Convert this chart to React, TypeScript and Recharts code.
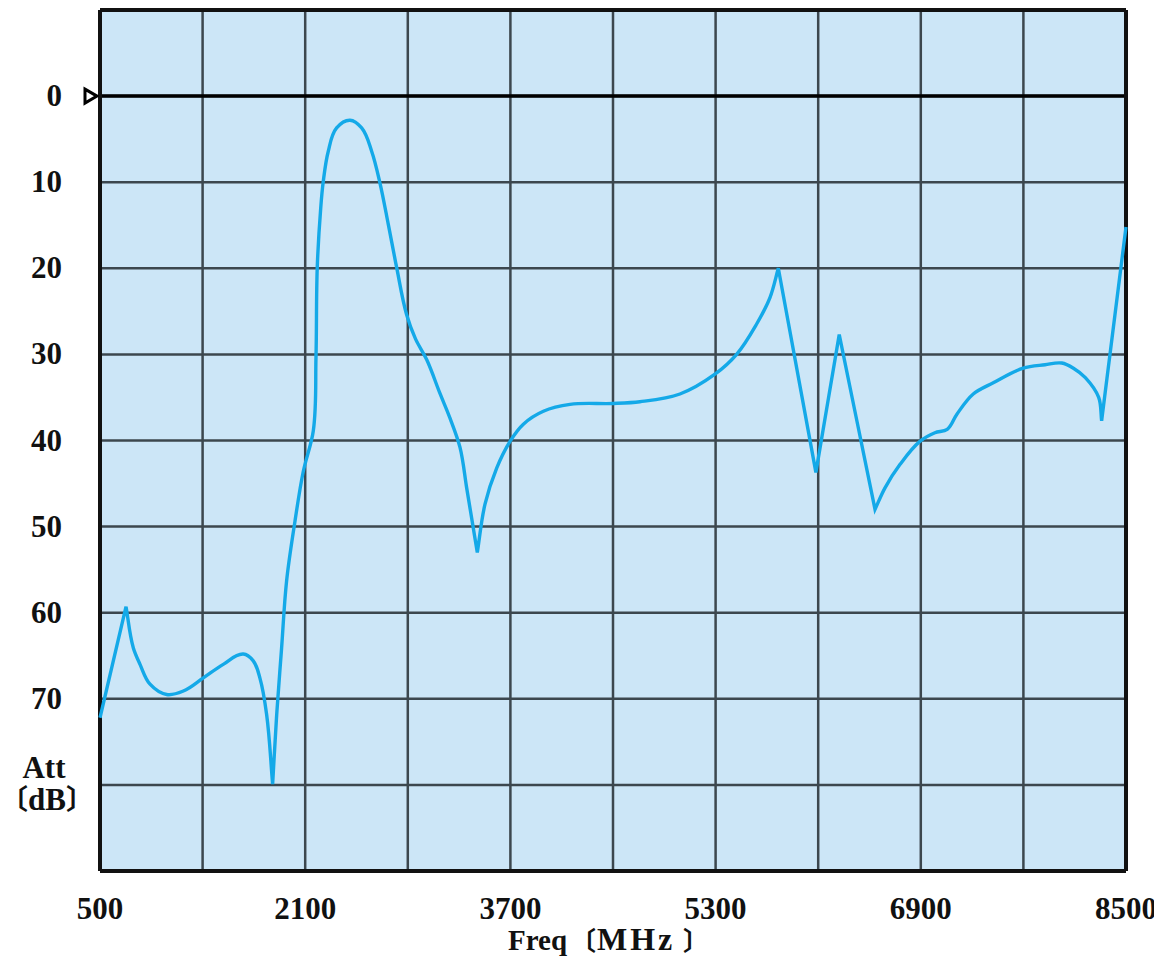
import * as React from 'react';
import { LineChart, Line, XAxis, YAxis, CartesianGrid, ReferenceLine } from 'recharts';

// attenuation curve
const freqMHz = [
  500, 703, 760, 812, 890, 1020, 1150, 1303, 1461, 1617, 1695, 1747, 1799, 1846, 1878, 1916, 1955,
  2020, 2085, 2163, 2184, 2194, 2221, 2241, 2280, 2345, 2449, 2540, 2618, 2683, 2748, 2813, 2891,
  2960, 3047, 3150, 3229, 3307, 3359, 3442, 3502, 3593, 3697, 3801, 3957, 4165, 4503,
  4710, 5022, 5295, 5464, 5619, 5724, 5789, 6082, 6264, 6543, 6621, 6737, 6893, 7010, 7106, 7179, 7309,
  7465, 7699, 7869, 7999, 8090, 8183, 8287, 8310, 8500,
];
const attDb = [
  72.2, 59.3, 64.1, 66.0, 68.3, 69.5, 69.1, 67.6, 66.0, 64.8, 65.6, 67.6, 71.8, 79.9, 71.8, 64.1, 56.3,
  49.4, 43.6, 38.9, 30.4, 19.9, 13.0, 9.9, 6.4, 3.7, 2.8, 3.7, 6.4, 10.1, 14.9, 19.9, 25.4,
  28.2, 30.6, 34.5, 37.4, 40.8, 45.5, 53.0, 47.4, 43.2, 40.1, 38.1, 36.6, 35.8, 35.7,
  35.5, 34.6, 32.3, 30.0, 26.5, 23.4, 20.0, 43.7, 27.7, 48.0, 45.5, 42.8, 40.1, 39.1, 38.7, 37.0, 34.6,
  33.3, 31.6, 31.2, 31.0, 31.6, 32.7, 35.0, 37.7, 15.2,
];

const xTicks = [500, 1300, 2100, 2900, 3700, 4500, 5300, 6100, 6900, 7700, 8500];
const xLabels = [500, 2100, 3700, 5300, 6900, 8500];
const yTicks = [-10, 0, 10, 20, 30, 40, 50, 60, 70, 80, 90];
const yLabels = [0, 10, 20, 30, 40, 50, 60, 70];

const data = freqMHz.map((f, i) => ({ f, att: attDb[i] }));

const FONT = '"Liberation Serif", "Noto Sans CJK JP", serif';

// smooth curve through the points, but keep sharp corners where the trace reverses direction
const cornerCurve = (ctx: any) => {
  let pts: number[][] = [];
  const unit = (dx: number, dy: number) => {
    const l = Math.hypot(dx, dy) || 1;
    return [dx / l, dy / l];
  };
  return {
    areaStart() {},
    areaEnd() {},
    lineStart() {
      pts = [];
    },
    point(x: number, y: number) {
      pts.push([+x, +y]);
    },
    lineEnd() {
      const n = pts.length;
      if (!n) return;
      const tin: number[][] = [];
      const tout: number[][] = [];
      for (let i = 0; i < n; i++) {
        const a = i > 0 ? unit(pts[i][0] - pts[i - 1][0], pts[i][1] - pts[i - 1][1]) : null;
        const b = i < n - 1 ? unit(pts[i + 1][0] - pts[i][0], pts[i + 1][1] - pts[i][1]) : null;
        if (!a) { tin[i] = tout[i] = b!; continue; }
        if (!b) { tin[i] = tout[i] = a; continue; }
        if (a[0] * b[0] + a[1] * b[1] < 0) {
          tin[i] = a;
          tout[i] = b;
        } else {
          const t = unit(a[0] + b[0], a[1] + b[1]);
          tin[i] = tout[i] = t;
        }
      }
      ctx.moveTo(pts[0][0], pts[0][1]);
      for (let i = 0; i < n - 1; i++) {
        const [x0, y0] = pts[i];
        const [x1, y1] = pts[i + 1];
        const d = Math.hypot(x1 - x0, y1 - y0) / 3;
        ctx.bezierCurveTo(x0 + tout[i][0] * d, y0 + tout[i][1] * d, x1 - tin[i + 1][0] * d, y1 - tin[i + 1][1] * d, x1, y1);
      }
    },
  };
};

const XTick = (props: any) => {
  const { x, y, payload } = props;
  if (!xLabels.includes(payload.value)) return null;
  return (
    <text x={x} y={y + 40} textAnchor="middle" fontFamily={FONT} fontWeight="bold" fontSize={31} fill="#111">
      {payload.value}
    </text>
  );
};

const YTick = (props: any) => {
  const { x, y, payload } = props;
  const v = payload.value;
  if (v === 80) {
    return (
      <g fontFamily={FONT} fontWeight="bold" fill="#111">
        <text x={x - 56} y={y - 7} textAnchor="middle" fontSize={31}>Att</text>
        <text y={y + 25} fontSize={31}>
          <tspan x={x - 100} fontSize={28}>〔</tspan>
          <tspan x={x - 72}>dB</tspan>
          <tspan x={x - 34} fontSize={28}>〕</tspan>
        </text>
      </g>
    );
  }
  if (!yLabels.includes(v)) return null;
  return (
    <g>
      <text x={x - 38} y={y + 10} textAnchor="end" fontFamily={FONT} fontWeight="bold" fontSize={31} fill="#111">
        {v}
      </text>
      {v === 0 && (
        <polygon points={`${x - 15},${y - 7} ${x - 3},${y} ${x - 15},${y + 7}`} fill="none" stroke="#000" strokeWidth={3} />
      )}
    </g>
  );
};

const FreqLabel = (p: any) => {
  const vb = p.viewBox;
  const cx = vb.x + vb.width / 2;
  const y = vb.y + 79;
  return (
    <g fontFamily={FONT} fontWeight="bold" fill="#111">
      <text x={cx - 105} y={y} fontSize={29}>Freq</text>
      <text x={cx - 43} y={y} fontSize={26}>〔</text>
      <text x={cx - 16} y={y} fontSize={32} letterSpacing={3}>MHz</text>
      <text x={cx + 70} y={y} fontSize={26}>〕</text>
    </g>
  );
};

export default function App() {
  return (
    <div style={{ margin: -8 }}>
      <LineChart width={1162} height={966} data={data} margin={{ top: 10, right: 36, bottom: 0, left: 0 }}>
        <CartesianGrid fill="#cce6f7" stroke="#3c474e" strokeWidth={2.5} />
        <XAxis
          dataKey="f"
          type="number"
          domain={[500, 8500]}
          ticks={xTicks}
          tick={<XTick />}
          tickLine={false}
          axisLine={false}
          height={95}
          interval={0}
          label={{ content: FreqLabel }}
        />
        <YAxis
          type="number"
          domain={[-10, 90]}
          reversed
          ticks={yTicks}
          tick={<YTick />}
          tickLine={false}
          tickSize={0}
          tickMargin={0}
          axisLine={false}
          width={100}
          interval={0}
        />
        <ReferenceLine y={0} stroke="#000" strokeWidth={3.5} />
        <ReferenceLine y={-10} stroke="#111" strokeWidth={4} />
        <ReferenceLine y={90} stroke="#111" strokeWidth={4} />
        <ReferenceLine x={500} stroke="#111" strokeWidth={4} />
        <ReferenceLine x={8500} stroke="#111" strokeWidth={4} />
        <Line dataKey="att" type={cornerCurve as any} stroke="#14a9e8" strokeWidth={3.4} dot={false} isAnimationActive={false} />
      </LineChart>
    </div>
  );
}
